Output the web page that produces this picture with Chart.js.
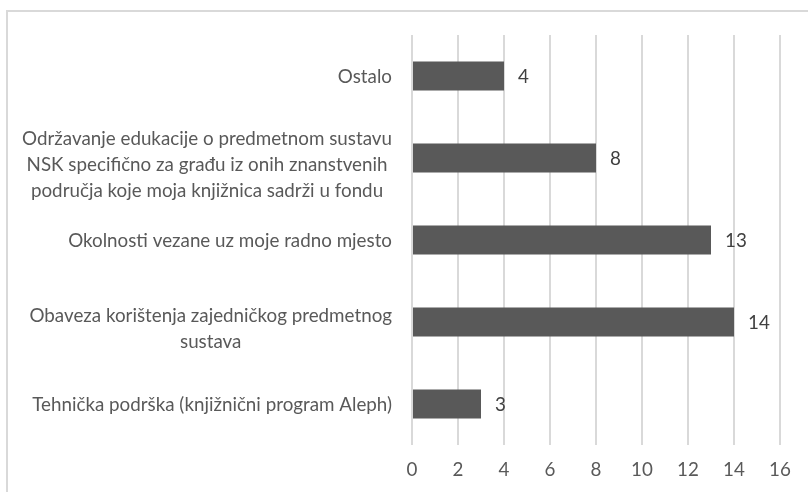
<!DOCTYPE html>
<html><head><meta charset="utf-8">
<script src="https://cdn.jsdelivr.net/npm/chart.js@4/dist/chart.umd.min.js"></script>
<style>
html,body{margin:0;padding:0;background:#fff;overflow:hidden;width:808px;height:492px}
#frame{position:absolute;left:6px;top:10px;width:900px;height:600px;border-top:2px solid #d9d9d9;border-left:2px solid #d9d9d9;box-sizing:border-box}
#wrap{position:absolute;left:0;top:0;width:808px;height:492px}
</style></head><body>
<div id="frame"></div>
<div id="wrap"><canvas id="c" width="808" height="492"></canvas></div>
<script>
const categories = [
  ['Ostalo'],
  ['Održavanje edukacije o predmetnom sustavu', 'NSK specifično za građu iz onih znanstvenih', 'područja koje moja knjižnica sadrži u fondu'],
  ['Okolnosti vezane uz moje radno mjesto'],
  ['Obaveza korištenja zajedničkog predmetnog', 'sustava'],
  ['Tehnička podrška (knjižnični program Aleph)']
];
const values = [4, 8, 13, 14, 3];
const xMin = 0, xMax = 16, xStep = 2;

const FONT_FAMILY = 'Lato';
const FONT_SIZE = 18.8;
const LINE_H = 26;
const TEXT_COLOR = '#595959';

const yLabelPlugin = {
  id: 'yLabels',
  afterDraw(chart) {
    const ctx = chart.ctx;
    const ys = chart.scales.y;
    const right = chart.chartArea.left - 20;
    ctx.save();
    ctx.font = FONT_SIZE + 'px ' + FONT_FAMILY;
    ctx.fillStyle = TEXT_COLOR;
    ctx.textAlign = 'center';
    ctx.textBaseline = 'middle';
    categories.forEach((lines, i) => {
      const widest = Math.max(...lines.map(l => ctx.measureText(l).width));
      const cx = right - widest / 2;
      const n = lines.length;
      const off = n > 1 ? 7 : 1;
      const y0 = ys.getPixelForValue(i) - (n - 1) * LINE_H / 2 + off;
      lines.forEach((l, j) => ctx.fillText(l, cx, y0 + j * LINE_H));
    });
    ctx.restore();
  }
};

const valueLabelPlugin = {
  id: 'valueLabels',
  afterDatasetsDraw(chart) {
    const ctx = chart.ctx;
    const meta = chart.getDatasetMeta(0);
    ctx.save();
    ctx.font = FONT_SIZE + 'px ' + FONT_FAMILY;
    ctx.fillStyle = '#404040';
    ctx.textAlign = 'left';
    ctx.textBaseline = 'middle';
    meta.data.forEach((bar, i) => {
      ctx.fillText(String(values[i]), bar.x + 14, bar.y + 1);
    });
    ctx.restore();
  }
};

new Chart(document.getElementById('c'), {
  type: 'bar',
  data: {
    labels: categories,
    datasets: [{
      data: values,
      backgroundColor: '#595959',
      borderWidth: 0,
      categoryPercentage: 1,
      barPercentage: 0.354
    }]
  },
  options: {
    indexAxis: 'y',
    responsive: false,
    devicePixelRatio: 1,
    animation: false,
    layout: { padding: { left: 0, right: 28, top: 35, bottom: 0 } },
    plugins: { legend: { display: false }, tooltip: { enabled: false } },
    scales: {
      x: {
        min: xMin, max: xMax,
        ticks: { stepSize: xStep, color: TEXT_COLOR, font: { family: FONT_FAMILY, size: FONT_SIZE }, padding: 14 },
        grid: { color: '#d9d9d9', lineWidth: 2, drawTicks: false },
        border: { display: false },
        afterFit(s) { s.height = 47; }
      },
      y: {
        ticks: { display: false },
        grid: { display: false },
        border: { display: false },
        afterFit(s) { s.width = 412; }
      }
    }
  },
  plugins: [yLabelPlugin, valueLabelPlugin]
});
</script>
</body></html>
